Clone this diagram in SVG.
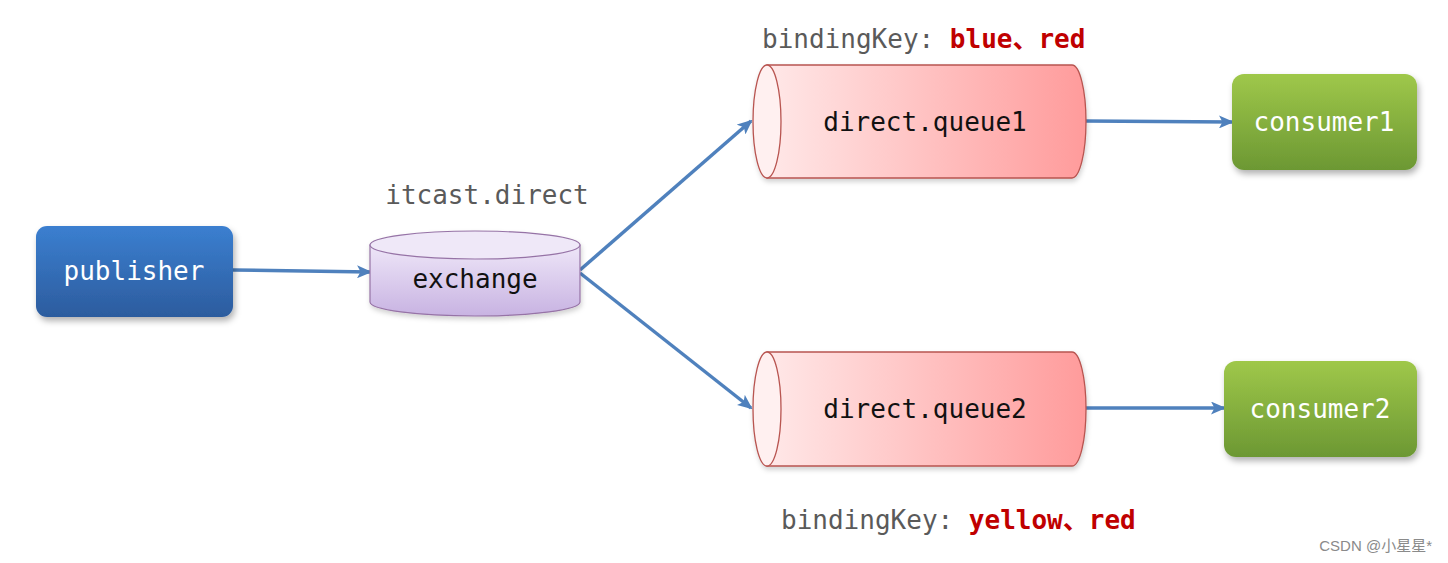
<svg xmlns="http://www.w3.org/2000/svg" width="1448" height="563" viewBox="0 0 1448 563">
<style>
.t{font-family:"DejaVu Sans Mono","Liberation Mono",monospace;font-size:26px}
.w{fill:#ffffff}
.k{fill:#111111}
.g{fill:#5a5a5a}
.r{fill:#c00000;font-weight:bold}
.cj{font-family:"DejaVu Sans Mono","Noto Sans CJK SC",monospace}
.edge{stroke:#4f81bd;stroke-width:3.5;fill:none;marker-end:url(#ah)}
.q{fill:url(#qg);stroke:#b85450;stroke-width:1.3}
.qe{fill:#fff0f0;stroke:#b85450;stroke-width:1.3}
</style>
<defs>
<linearGradient id="pg" x1="0" y1="0" x2="0" y2="1"><stop offset="0" stop-color="#3b7fd0"/><stop offset="1" stop-color="#2c5c9e"/></linearGradient>
<linearGradient id="cg" x1="0" y1="0" x2="0" y2="1"><stop offset="0" stop-color="#9fc84a"/><stop offset="1" stop-color="#6c9833"/></linearGradient>
<linearGradient id="eg" x1="0" y1="0" x2="0" y2="1"><stop offset="0" stop-color="#eee6f8"/><stop offset="1" stop-color="#c8b3e2"/></linearGradient>
<linearGradient id="qg" x1="0" y1="0" x2="1" y2="0"><stop offset="0" stop-color="#ffe8e8"/><stop offset="1" stop-color="#ff9b9b"/></linearGradient>
<filter id="sh" x="-10%" y="-10%" width="125%" height="135%"><feDropShadow dx="2" dy="4" stdDeviation="3" flood-color="#000" flood-opacity="0.3"/></filter>
<filter id="sh2" x="-10%" y="-10%" width="125%" height="135%"><feDropShadow dx="1" dy="3" stdDeviation="2.5" flood-color="#000" flood-opacity="0.18"/></filter>
<marker id="ah" markerWidth="15" markerHeight="13" refX="13" refY="6.5" orient="auto" markerUnits="userSpaceOnUse"><path d="M0,0 L15,6.5 L0,13 L3.5,6.5 Z" fill="#4f81bd"/></marker>
</defs>

<g id="connectors">
<path class="edge" d="M233,270 L370,272"/>
<path class="edge" d="M580,270 L751,121"/>
<path class="edge" d="M580,273 L751,408"/>
<path class="edge" d="M1085,121 L1232,122"/>
<path class="edge" d="M1085,408 L1224,408"/>
</g>

<g id="publisher">
<rect x="36" y="226" width="197" height="91" rx="11" fill="url(#pg)" filter="url(#sh)"/>
<text class="t w" x="134" y="280" text-anchor="middle">publisher</text>
</g>

<g id="exchange">
<text class="t g" x="487" y="204" text-anchor="middle">itcast.direct</text>
<g filter="url(#sh2)">
<path d="M370,245 L370,302 A105,14 0 0 0 580,302 L580,245 Z" fill="url(#eg)" stroke="#9673a6" stroke-width="1.2"/>
<ellipse cx="475" cy="245" rx="105" ry="14" fill="#efe8f8" stroke="#9673a6" stroke-width="1.2"/>
</g>
<text class="t k" x="475" y="288" text-anchor="middle">exchange</text>
</g>

<g id="queue1">
<text class="t" x="762" y="48"><tspan class="g">bindingKey: </tspan><tspan class="r cj">blue、red</tspan></text>
<g filter="url(#sh2)">
<path class="q" d="M767,65 L1072,65 A14,56.5 0 0 1 1072,178 L767,178 Z"/>
<ellipse class="qe" cx="767" cy="121.5" rx="14" ry="56.5"/>
</g>
<text class="t k" x="925" y="131" text-anchor="middle">direct.queue1</text>
</g>

<g id="queue2">
<g filter="url(#sh2)">
<path class="q" d="M767,352 L1072,352 A14,57 0 0 1 1072,466 L767,466 Z"/>
<ellipse class="qe" cx="767" cy="409" rx="14" ry="57"/>
</g>
<text class="t k" x="925" y="418" text-anchor="middle">direct.queue2</text>
<text class="t" x="781" y="529"><tspan class="g">bindingKey: </tspan><tspan class="r cj">yellow、red</tspan></text>
</g>

<g id="consumer1">
<rect x="1232" y="74" width="185" height="96" rx="12" fill="url(#cg)" filter="url(#sh)"/>
<text class="t w" x="1324" y="131" text-anchor="middle">consumer1</text>
</g>

<g id="consumer2">
<rect x="1224" y="361" width="193" height="96" rx="12" fill="url(#cg)" filter="url(#sh)"/>
<text class="t w" x="1320" y="418" text-anchor="middle">consumer2</text>
</g>

<text x="1432" y="551" text-anchor="end" font-family="'Liberation Sans','Noto Sans CJK SC',sans-serif" font-size="15" fill="#8a8a8a">CSDN @小星星*</text>
</svg>
